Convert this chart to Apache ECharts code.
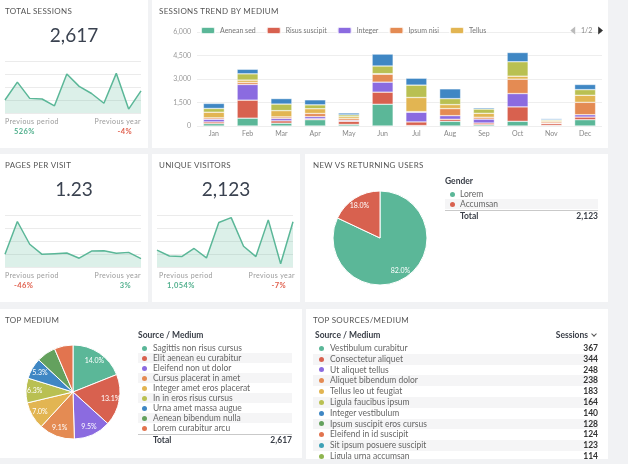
<!DOCTYPE html>
<html>
<head>
<meta charset="utf-8">
<script src="https://cdn.jsdelivr.net/npm/echarts@6/dist/echarts.min.js"></script>
<style>
	body { margin: 0; width: 628px; height: 464px; overflow: hidden; background: #f1f2f4; font-family: Lato, "Open Sans", sans-serif; position: relative; }
	.panel { position: absolute; background: #fff; overflow: hidden; }
	.ttl { position: absolute; left: 5px; top: 5px; font-size: 8px; line-height: 12px; color: #555; letter-spacing: 0.3px; z-index: 2; }
	.big { position: absolute; left: 0; right: 0; top: 24px; text-align: center; font-size: 19px; line-height: 22px; color: #3a4250; z-index: 2; }
	.chart { position: absolute; left: 0; top: 0; width: 100%; height: 100%; }
	.cmp { position: absolute; top: 117px; font-size: 7px; line-height: 8px; color: #9a9a9a; letter-spacing: 0.4px; z-index: 2; }
	.cmpv { position: absolute; top: 127px; font-size: 7.5px; line-height: 9px; font-weight: bold; letter-spacing: 0.4px; z-index: 2; }
	.up { color: #52b08e; }
	.down { color: #e0604e; }
	.tbl { position: absolute; z-index: 2; }
	.th { position: absolute; font-size: 8.5px; line-height: 10px; font-weight: bold; color: #3a3f48; }
	.row { position: absolute; left: 0; right: 0; height: 10px; line-height: 10px; font-size: 8.5px; color: #666; }
	.row.alt { background: #f5f5f6; }
	.dot { position: absolute; top: 2.5px; width: 5px; height: 5px; border-radius: 50%; }
	.val { position: absolute; right: 0; top: 0; font-weight: bold; color: #333; }
	.sep { position: absolute; left: 0; right: 0; height: 1px; background: #c9c9c9; }
	.chev { display: inline-block; width: 3px; height: 3px; border-right: 1px solid #555; border-bottom: 1px solid #555; transform: rotate(45deg); margin: 0 2px 2px 4px; }
</style>
</head>
<body>

<div class="panel" style="left:0;top:0;width:148px;height:148px;">
	<div class="ttl">TOTAL SESSIONS</div>
	<div class="big">2,617</div>
	<div class="chart" id="spark_sessions"></div>
	<div class="cmp" style="left:5px;">Previous period</div>
	<div class="cmp" style="right:7px;">Previous year</div>
	<div class="cmpv up" style="left:14px;">526%</div>
	<div class="cmpv down" style="right:16px;">-4%</div>
</div>

<div class="panel" style="left:152px;top:0;width:456px;height:148px;">
	<div class="ttl" style="left:7px;">SESSIONS TREND BY MEDIUM</div>
	<div class="chart" id="trend_chart"></div>
</div>

<div class="panel" style="left:0;top:154px;width:148px;height:148px;">
	<div class="ttl">PAGES PER VISIT</div>
	<div class="big">1.23</div>
	<div class="chart" id="spark_pages"></div>
	<div class="cmp" style="left:5px;">Previous period</div>
	<div class="cmp" style="right:7px;">Previous year</div>
	<div class="cmpv down" style="left:14px;">-46%</div>
	<div class="cmpv up" style="right:17px;">3%</div>
</div>

<div class="panel" style="left:152px;top:154px;width:148px;height:148px;">
	<div class="ttl" style="left:7px;">UNIQUE VISITORS</div>
	<div class="big">2,123</div>
	<div class="chart" id="spark_visitors"></div>
	<div class="cmp" style="left:7px;">Previous period</div>
	<div class="cmp" style="right:5px;">Previous year</div>
	<div class="cmpv up" style="left:15px;">1,054%</div>
	<div class="cmpv down" style="right:14px;">-7%</div>
</div>

<div class="panel" style="left:305px;top:154px;width:303px;height:148px;">
	<div class="ttl" style="left:8px;">NEW VS RETURNING USERS</div>
	<div class="chart" id="gender_chart"></div>
	<div class="tbl" id="gender_tbl" style="left:140px;top:22px;width:153px;height:50px;"></div>
</div>

<div class="panel" style="left:0;top:309px;width:302px;height:149px;">
	<div class="ttl">TOP MEDIUM</div>
	<div class="chart" id="medium_chart"></div>
	<div class="tbl" id="medium_tbl" style="left:138px;top:21px;width:154px;height:120px;"></div>
</div>

<div class="panel" style="left:306px;top:309px;width:302px;height:150px;">
	<div class="ttl" style="left:7px;">TOP SOURCES/MEDIUM</div>
	<div class="tbl" id="sources_tbl" style="left:7px;top:21px;width:285px;height:140px;"></div>
</div>

<script>
	// 数据
	var months = ['Jan', 'Feb', 'Mar', 'Apr', 'May', 'Jun', 'Jul', 'Aug', 'Sep', 'Oct', 'Nov', 'Dec'];
	var palette = ['#5bb798', '#d8614f', '#8b6be0', '#e48b53', '#e2b552', '#b9c052', '#3f87c4', '#64a15e', '#e2744f', '#3da0b5', '#8fb550'];

	// sparklines
	var sessionsTrend = [40, 95, 45, 43, 22, 120, 82, 60, 30, 122, 12, 68];
	var pagesTrend = [39, 140, 70, 39, 41, 43, 27, 49, 50, 42, 45, 26];
	var visitorsTrend = [52, 34, 32, 57, 28, 137, 152, 64, 32, 145, 10, 139];

	// sessions trend by medium (stacked)
	var mediumNames = ['Aenean sed', 'Risus suscipit', 'Integer', 'Ipsum nisi', 'Tellus', 'Ligula faucibus ipsum', 'Vestibulum curabitur'];
	var aeneanSed = [150, 500, 180, 400, 100, 1390, 30, 300, 80, 300, 40, 400];
	var risusSuscipit = [110, 1150, 150, 60, 200, 770, 230, 130, 110, 920, 120, 170];
	var integerVals = [170, 1000, 150, 140, 60, 640, 620, 230, 250, 850, 30, 150];
	var ipsumNisi = [90, 130, 100, 200, 110, 510, 40, 450, 120, 920, 80, 790];
	var tellus = [360, 150, 400, 300, 120, 30, 900, 256, 250, 190, 70, 450];
	var ligula = [240, 400, 420, 250, 120, 490, 790, 380, 270, 920, 60, 360];
	var vestibulum = [320, 290, 350, 320, 120, 760, 440, 625, 80, 590, 70, 330];
	var trendTicks = [0, 1500, 3000, 4500, 6000];

	// new vs returning
	var genderNames = ['Lorem', 'Accumsan'];
	var genderValues = [1741, 382];
	var genderTotal = 2123;

	// top medium
	var topMediumNames = ['Sagittis non risus cursus', 'Elit aenean eu curabitur', 'Eleifend non ut dolor', 'Cursus placerat in amet',
		'Integer amet eros placerat', 'In in eros risus cursus', 'Urna amet massa augue', 'Aenean bibendum nulla', 'Lorem curabitur arcu'];
	var topMediumValues = [367, 344, 248, 238, 183, 164, 140, 128, 124];
	var sessionsTotal = 2617;

	// top sources
	var sourceNames = ['Vestibulum curabitur', 'Consectetur aliquet', 'Ut aliquet tellus', 'Aliquet bibendum dolor', 'Tellus leo ut feugiat',
		'Ligula faucibus ipsum', 'Integer vestibulum', 'Ipsum suscipit eros cursus', 'Eleifend in id suscipit', 'Sit ipsum posuere suscipit', 'Ligula urna accumsan'];
	var sourceValues = [367, 344, 248, 238, 183, 164, 140, 128, 124, 123, 114];

	var FONT = 'Lato, "Open Sans", sans-serif';

	function fmt(n) {
		return String(n).replace(/\B(?=(\d{3})+(?!\d))/g, ',');
	}

	// 迷你折线图
	function renderSpark(id, data) {
		var chart = echarts.init(document.getElementById(id));
		chart.setOption({
			animation: false,
			grid: { left: 5, right: 7, top: 61, height: 52 },
			xAxis: { type: 'category', data: months, boundaryGap: false, show: false },
			yAxis: {
				type: 'value', min: 0, max: 160, interval: 40,
				axisLabel: { show: false }, axisLine: { show: false }, axisTick: { show: false },
				splitLine: { lineStyle: { color: '#ebebeb' } }
			},
			series: [{
				type: 'line', data: data, symbol: 'none',
				lineStyle: { color: '#5bb798', width: 1.5 },
				areaStyle: { color: 'rgba(91,183,152,0.3)' }
			}]
		});
	}

	// 堆叠柱状图
	function renderTrend() {
		var chart = echarts.init(document.getElementById('trend_chart'));
		var stacks = [aeneanSed, risusSuscipit, integerVals, ipsumNisi, tellus, ligula, vestibulum];
		var series = [];
		for (var i = 0; i < mediumNames.length; i++) {
			series.push({
				name: mediumNames[i], type: 'bar', stack: 'total', barWidth: 21,
				data: stacks[i],
				itemStyle: { borderColor: 'rgba(255,255,255,0.8)', borderWidth: 0.5 }
			});
		}
		chart.setOption({
			animation: false,
			color: palette,
			textStyle: { fontFamily: FONT },
			legend: {
				type: 'scroll', data: mediumNames, left: 43, right: 1, top: 21,
				itemWidth: 14, itemHeight: 7, itemGap: 10,
				textStyle: { fontSize: 7, color: '#777', fontFamily: FONT },
				pageButtonGap: 76, pageButtonItemGap: 3,
				pageIconSize: 8, pageIconColor: '#333', pageIconInactiveColor: '#bbb',
				pageTextStyle: { fontSize: 7, color: '#888', fontFamily: FONT }
			},
			grid: { left: 45, right: 6, top: 32, bottom: 22 },
			xAxis: {
				type: 'category', data: months,
				axisLine: { show: false }, axisTick: { show: false },
				axisLabel: { fontSize: 7, color: '#888', margin: 4, fontFamily: FONT }
			},
			yAxis: {
				type: 'value', min: trendTicks[0], max: trendTicks[trendTicks.length - 1], interval: trendTicks[1] - trendTicks[0],
				axisLabel: { fontSize: 7, color: '#999', margin: 6, fontFamily: FONT, formatter: function (v) { return fmt(v); } },
				splitLine: { lineStyle: { color: '#eee' } }
			},
			series: series
		});
	}

	// 饼图 (label series sits at 0.75 r)
	function renderPie(id, names, values, colors, center, r, labelFn) {
		var chart = echarts.init(document.getElementById(id));
		var data = [];
		for (var i = 0; i < names.length; i++) {
			data.push({ name: names[i], value: values[i], itemStyle: { color: colors[i] } });
		}
		chart.setOption({
			animation: false,
			series: [{
				type: 'pie', radius: [0, r], center: center, startAngle: 90, data: data,
				itemStyle: { borderColor: '#fff', borderWidth: 1 },
				label: { show: false }, labelLine: { show: false }, silent: true
			}, {
				type: 'pie', radius: [0, r * 1.5], center: center, startAngle: 90, silent: true,
				data: data.map(function (d) { return { name: d.name, value: d.value }; }),
				itemStyle: { color: 'rgba(0,0,0,0)', borderWidth: 0 },
				label: { position: 'inside', color: '#fff', fontSize: 7, fontFamily: FONT, formatter: labelFn },
				labelLine: { show: false }
			}]
		});
	}

	// 表格
	function renderTable(id, opts) {
		var el = document.getElementById(id);
		var html = '<div class="th" style="left:' + opts.headLeft + 'px;top:0;">' + opts.head + '</div>';
		if (opts.headRight) {
			html += '<div class="th" style="right:0;top:0;">' + opts.headRight + '</div>';
		}
		for (var i = 0; i < opts.names.length; i++) {
			var top = opts.rowTop + i * opts.rowH;
			html += '<div class="row' + (i % 2 ? ' alt' : '') + '" style="top:' + top + 'px;height:' + opts.rowH + 'px;line-height:' + opts.rowH + 'px;">' +
				'<span class="dot" style="left:' + opts.dotLeft + 'px;top:' + (opts.rowH / 2 - 2.5) + 'px;background:' + opts.colors[i] + ';"></span>' +
				'<span style="position:absolute;left:' + opts.textLeft + 'px;">' + opts.names[i] + '</span>' +
				(opts.values ? '<span class="val">' + opts.values[i] + '</span>' : '') + '</div>';
		}
		if (opts.total) {
			var sepTop = opts.rowTop + opts.names.length * opts.rowH + 1;
			html += '<div class="sep" style="top:' + sepTop + 'px;"></div>';
			html += '<div class="th" style="left:' + opts.textLeft + 'px;top:' + (sepTop + 1) + 'px;">Total</div>';
			html += '<div class="th" style="right:0;top:' + (sepTop + 1) + 'px;">' + opts.total + '</div>';
		}
		el.innerHTML = html;
	}

	renderSpark('spark_sessions', sessionsTrend);
	renderSpark('spark_pages', pagesTrend);
	renderSpark('spark_visitors', visitorsTrend);
	renderTrend();

	renderPie('gender_chart', genderNames, genderValues, palette, [75, 84], 47, function (p) {
		return p.percent.toFixed(1) + '%';
	});
	renderPie('medium_chart', topMediumNames, topMediumValues, palette, [73, 83], 47, function (p) {
		var pct = p.value / sessionsTotal * 100;
		return pct >= 5 ? pct.toFixed(1) + '%' : '';
	});

	renderTable('gender_tbl', {
		head: 'Gender', headLeft: 0, names: genderNames, colors: palette,
		rowTop: 13, rowH: 10, dotLeft: 5, textLeft: 15, total: fmt(genderTotal)
	});
	renderTable('medium_tbl', {
		head: 'Source / Medium', headLeft: 0, names: topMediumNames, colors: palette,
		rowTop: 13, rowH: 10, dotLeft: 4, textLeft: 15, total: fmt(sessionsTotal)
	});
	renderTable('sources_tbl', {
		head: 'Source / Medium', headLeft: 2, headRight: 'Sessions<span class="chev"></span>',
		names: sourceNames, values: sourceValues, colors: palette,
		rowTop: 13, rowH: 10.8, dotLeft: 6, textLeft: 17
	});
</script>
</body>
</html>
